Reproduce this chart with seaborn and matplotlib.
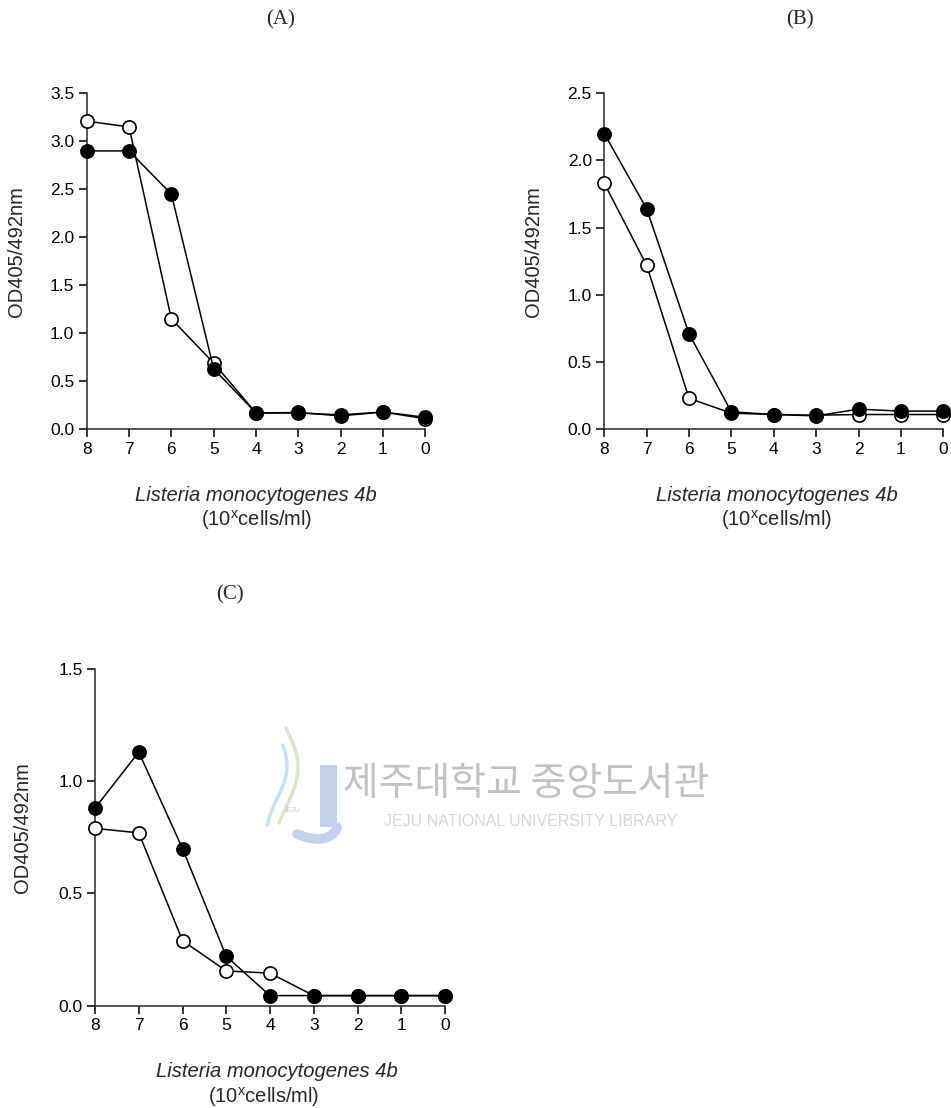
import numpy as np
import pandas as pd
import matplotlib
matplotlib.use('Agg')
import matplotlib.pyplot as plt
import seaborn as sns
from matplotlib.patches import Rectangle

sns.set_style('ticks')
plt.rcParams['font.family'] = ['Liberation Sans', 'DejaVu Sans']
plt.rcParams['mathtext.fontset'] = 'custom'
plt.rcParams['mathtext.rm'] = 'Liberation Sans'
plt.rcParams['mathtext.it'] = 'Liberation Sans:italic'

# dilution (10^x cells/ml), plotted from 8 down to 0
dilution = [8, 7, 6, 5, 4, 3, 2, 1, 0]

# panel A
a_open = [3.21, 3.15, 1.15, 0.69, 0.17, 0.17, 0.15, 0.18, 0.11]
a_filled = [2.90, 2.90, 2.45, 0.63, 0.17, 0.175, 0.14, 0.18, 0.125]
# panel B
b_open = [1.83, 1.22, 0.23, 0.12, 0.11, 0.105, 0.11, 0.11, 0.11]
b_filled = [2.20, 1.64, 0.71, 0.13, 0.11, 0.10, 0.15, 0.135, 0.135]
# panel C
c_open = [0.79, 0.77, 0.29, 0.155, 0.145, 0.045, 0.045, 0.045, 0.045]
c_filled = [0.88, 1.13, 0.70, 0.22, 0.045, 0.045, 0.045, 0.045, 0.045]

panel_titles = ['(A)', '(B)', '(C)']
y_ticks = [[0.0, 0.5, 1.0, 1.5, 2.0, 2.5, 3.0, 3.5],
           [0.0, 0.5, 1.0, 1.5, 2.0, 2.5],
           [0.0, 0.5, 1.0, 1.5]]
ylabel = 'OD405/492nm'
xlabel1 = 'Listeria monocytogenes 4b'
xlabel2 = r'(10$^{\mathrm{x}}$cells/ml)'

W, H = 951, 1108
fig = plt.figure(figsize=(W / 100, H / 100), dpi=100)

# watermark layer (pixel coordinates), sits behind the charts
wm = fig.add_axes([0, 0, 1, 1], zorder=0)
wm.set_xlim(0, W)
wm.set_ylim(H, 0)
wm.axis('off')
wm.text(526, 784, '제주대학교 중앙도서관', family=['Noto Sans CJK KR', 'DejaVu Sans'],
        fontsize=28, color='#c2c2c2', ha='center', va='center')
wm.text(531, 821, 'JEJU NATIONAL UNIVERSITY LIBRARY', family=['Liberation Sans'],
        fontsize=11.5, color='#d6d6d6', ha='center', va='center')
wm.add_patch(Rectangle((320, 765), 17, 62, color='#c3d3ec', lw=0))
t = np.linspace(0, 1, 50)
wm.plot(337 - 40 * t ** 1.6, 827 + 12 * np.sin(np.pi * t * 0.8), color='#c3d3ec', lw=7,
        solid_capstyle='round')
wm.plot(286 + 12 * np.sin(np.pi * t * 1.2), 728 + 95 * t, color='#d6e8c8', lw=2.5)
wm.plot(277 + 10 * np.sin(np.pi * t * 1.2 + 0.6), 745 + 80 * t, color='#c4e2f2', lw=2.5)
wm.text(292, 812, 'JEJU', fontsize=5, color='#c8c8c8', ha='center')


def px_axes(left, top, right, bottom):
    return fig.add_axes([left / W, 1 - bottom / H, (right - left) / W, (bottom - top) / H], zorder=2)


axes = [px_axes(86.7, 93.3, 425.3, 429.3),
        px_axes(604.3, 93.3, 943.3, 429.3),
        px_axes(95, 669, 445, 1005.7)]
series = [(a_open, a_filled), (b_open, b_filled), (c_open, c_filled)]
title_pos = [(281, 20), (800, 20), (230, 595)]
xlab_pos = [(0.501, 0.501), (0.509, 0.509), (0.52, 0.483)]

for i, ax in enumerate(axes):
    op, fi = series[i]
    df = pd.DataFrame({'x': dilution, 'open': op, 'filled': fi})
    sns.lineplot(data=df, x='x', y='open', ax=ax, color='black', lw=1.1, marker='o',
                 markersize=9.5, markerfacecolor='white', markeredgecolor='black',
                 markeredgewidth=1.2, clip_on=False, estimator=None, sort=False, zorder=3)
    sns.lineplot(data=df, x='x', y='filled', ax=ax, color='black', lw=1.1, marker='o',
                 markersize=9.5, markerfacecolor='black', markeredgecolor='black',
                 markeredgewidth=1.2, clip_on=False, estimator=None, sort=False, zorder=4)
    ax.set_xlim(8, 0)
    ax.set_ylim(0, y_ticks[i][-1])
    ax.set_xticks(dilution)
    ax.set_xticklabels([str(d) for d in dilution])
    ax.set_yticks(y_ticks[i])
    ax.set_yticklabels([f'{v:.1f}' for v in y_ticks[i]])
    ax.tick_params(axis='both', direction='out', length=6, width=1.1, labelsize=12.5,
                   colors='black', pad=3)
    sns.despine(ax=ax)
    ax.spines['left'].set_linewidth(1.1)
    ax.spines['bottom'].set_linewidth(1.1)
    ax.patch.set_alpha(0)
    ax.set_xlabel('')
    ax.set_ylabel(ylabel, fontsize=14.5)
    ax.yaxis.set_label_coords(-0.18, 0.53)
    ax.text(xlab_pos[i][0], -0.196, xlabel1, transform=ax.transAxes, style='italic',
            fontsize=14.5, ha='center', va='center')
    ax.text(xlab_pos[i][1], -0.27, xlabel2, transform=ax.transAxes,
            fontsize=14.5, ha='center', va='center')
    fig.text(title_pos[i][0] / W, 1 - title_pos[i][1] / H, panel_titles[i],
             family='Liberation Serif', fontsize=15, ha='center', va='center')

fig.savefig('out.png', dpi=100)
